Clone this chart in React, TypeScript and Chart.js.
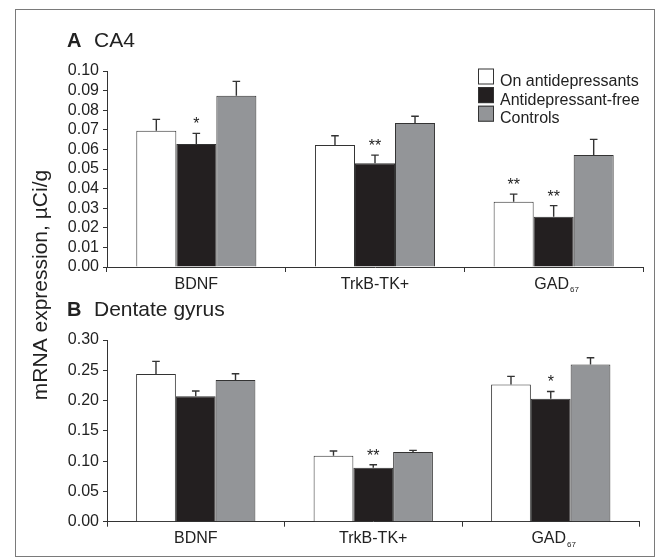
import React, { useEffect, useRef } from 'react';
import { Chart, registerables } from 'chart.js';

Chart.register(...registerables);

const FONT = '"Liberation Sans", Arial, Helvetica, sans-serif';

// ---------- data ----------
const categories = ['BDNF', 'TrkB-TK+', 'GAD_67'];
const seriesNames = ['On antidepressants', 'Antidepressant-free', 'Controls'];
const seriesColors = ['#ffffff', '#231f20', '#939598'];

// Panel A: CA4
const caOn = [0.0695, 0.0622, 0.0333];
const caFree = [0.0628, 0.0529, 0.0257];
const caCtrl = [0.0874, 0.0735, 0.0571];
const caOnErr = [0.0058, 0.0048, 0.0039];
const caFreeErr = [0.0054, 0.0042, 0.0056];
const caCtrlErr = [0.0073, 0.0034, 0.008];
const caOnSig = ['', '', '**'];
const caFreeSig = ['*', '**', '**'];
const caCtrlSig = ['', '', ''];
const caTicks = [0, 0.01, 0.02, 0.03, 0.04, 0.05, 0.06, 0.07, 0.08, 0.09, 0.1];
const caTickLabels = ['0.00', '0.01', '0.02', '0.03', '0.04', '0.05', '0.06', '0.07', '0.08', '0.09', '0.10'];

// Panel B: Dentate gyrus
const dgOn = [0.2437, 0.109, 0.2267];
const dgFree = [0.207, 0.0891, 0.203];
const dgCtrl = [0.2338, 0.115, 0.2597];
const dgOnErr = [0.021, 0.0077, 0.0133];
const dgFreeErr = [0.0087, 0.005, 0.012];
const dgCtrlErr = [0.0104, 0.0028, 0.011];
const dgOnSig = ['', '', ''];
const dgFreeSig = ['', '**', '*'];
const dgCtrlSig = ['', '', ''];
const dgTicks = [0, 0.05, 0.1, 0.15, 0.2, 0.25, 0.3];
const dgTickLabels = ['0.00', '0.05', '0.10', '0.15', '0.20', '0.25', '0.30'];

const yTitle = 'mRNA expression, \u00b5Ci/g';
const titleA = ['A', 'CA4'];
const titleB = ['B', 'Dentate gyrus'];

// ---------- plugins ----------
const errorBarPlugin = {
  id: 'errorBars',
  afterDatasetsDraw(chart: any) {
    const { ctx } = chart;
    const y = chart.scales.y;
    chart.data.datasets.forEach((ds: any, i: number) => {
      const meta = chart.getDatasetMeta(i);
      meta.data.forEach((bar: any, j: number) => {
        const v = ds.data[j];
        const top = y.getPixelForValue(v + ds.errors[j]);
        ctx.save();
        ctx.strokeStyle = '#333';
        ctx.lineWidth = 1.4;
        ctx.beginPath();
        ctx.moveTo(bar.x, bar.y);
        ctx.lineTo(bar.x, top);
        ctx.moveTo(bar.x - 3.8, top);
        ctx.lineTo(bar.x + 3.8, top);
        ctx.stroke();
        if (ds.sig[j]) {
          ctx.fillStyle = '#222';
          ctx.font = `16px ${FONT}`;
          ctx.textAlign = 'center';
          ctx.textBaseline = 'alphabetic';
          ctx.fillText(ds.sig[j], bar.x, top - 4);
        }
        ctx.restore();
      });
    });
  },
};

const xLabelPlugin = {
  id: 'xLabels',
  afterDraw(chart: any) {
    const { ctx, chartArea } = chart;
    const x = chart.scales.x;
    ctx.save();
    ctx.fillStyle = '#222';
    ctx.textBaseline = 'alphabetic';
    categories.forEach((label, j) => {
      const cx = x.getPixelForValue(j);
      const base = chartArea.bottom + 21.5;
      const [main, sub] = label.split('_');
      ctx.font = `16px ${FONT}`;
      const wMain = ctx.measureText(main).width;
      if (sub) {
        const start = cx - wMain / 2 - 2;
        ctx.textAlign = 'left';
        ctx.fillText(main, start, base);
        ctx.font = `8px ${FONT}`;
        ctx.fillText(sub, start + wMain + 1, base + 3.5);
      } else {
        ctx.textAlign = 'center';
        ctx.fillText(main, cx, base);
      }
    });
    ctx.restore();
  },
};

const panelTitlePlugin = {
  id: 'panelTitle',
  afterDraw(chart: any, _args: any, opts: any) {
    const { ctx, chartArea } = chart;
    const base = chartArea.top - 24;
    ctx.save();
    ctx.fillStyle = '#222';
    ctx.textAlign = 'left';
    ctx.textBaseline = 'alphabetic';
    ctx.font = `bold 20px ${FONT}`;
    ctx.fillText(opts.text[0], 67, base);
    ctx.font = `21px ${FONT}`;
    ctx.fillText(opts.text[1], 94, base);
    ctx.restore();
  },
};

const legendPlugin = {
  id: 'customLegend',
  afterDraw(chart: any, _args: any, opts: any) {
    if (!opts.show) return;
    const { ctx } = chart;
    ctx.save();
    chart.data.datasets.forEach((ds: any, i: number) => {
      const top = 68.5 + i * 18.6;
      ctx.fillStyle = ds.backgroundColor;
      ctx.fillRect(478, top, 16, 16);
      ctx.strokeStyle = '#333';
      ctx.lineWidth = 1;
      ctx.strokeRect(478.5, top + 0.5, 15, 15);
      ctx.fillStyle = '#222';
      ctx.font = `16px ${FONT}`;
      ctx.textAlign = 'left';
      ctx.textBaseline = 'alphabetic';
      ctx.fillText(ds.label, 500, top + 17.5);
    });
    ctx.restore();
  },
};

const framePlugin = {
  id: 'frame',
  afterDraw(chart: any, _args: any, opts: any) {
    if (!opts.show) return;
    const { ctx } = chart;
    ctx.save();
    ctx.strokeStyle = '#7a7a7a';
    ctx.lineWidth = 1;
    ctx.strokeRect(15.5, 9.5, 639, 547);
    ctx.translate(47, 285);
    ctx.rotate(-Math.PI / 2);
    ctx.fillStyle = '#222';
    ctx.font = `21px ${FONT}`;
    ctx.textAlign = 'center';
    ctx.textBaseline = 'alphabetic';
    ctx.fillText(yTitle, 0, 0);
    ctx.restore();
  },
};

function makeConfig(
  values: number[][],
  errs: number[][],
  sigs: string[][],
  ticks: number[],
  tickLabels: string[],
  padding: any,
  xHeight: number,
  title: string[],
  showLegend: boolean,
  showFrame: boolean
): any {
  return {
    type: 'bar',
    data: {
      labels: categories,
      datasets: seriesNames.map((name, i) => ({
        label: name,
        data: values[i],
        errors: errs[i],
        sig: sigs[i],
        backgroundColor: seriesColors[i],
        borderColor: '#333',
        borderWidth: 1,
        categoryPercentage: 0.672,
        barPercentage: 1.0,
      })),
    },
    options: {
      responsive: false,
      animation: false,
      layout: { padding },
      plugins: {
        legend: { display: false },
        tooltip: { enabled: false },
        title: { display: false },
        panelTitle: { text: title },
        customLegend: { show: showLegend },
        frame: { show: showFrame },
      },
      scales: {
        x: {
          offset: true,
          grid: {
            display: true,
            offset: true,
            drawOnChartArea: false,
            drawTicks: true,
            tickLength: 5,
            color: '#333',
            lineWidth: 1,
          },
          border: { display: true, color: '#333', width: 1 },
          ticks: { display: false },
          afterFit: (s: any) => {
            s.height = xHeight;
          },
        },
        y: {
          min: ticks[0],
          max: ticks[ticks.length - 1],
          afterBuildTicks: (s: any) => {
            s.ticks = ticks.map((v) => ({ value: v }));
          },
          ticks: {
            autoSkip: false,
            callback: (_v: any, i: number) => tickLabels[i],
            font: { family: FONT, size: 16 },
            color: '#222',
            padding: 4,
          },
          grid: {
            drawOnChartArea: false,
            drawTicks: true,
            tickLength: 4,
            color: '#333',
          },
          border: { display: true, color: '#333', width: 1 },
          afterFit: (s: any) => {
            s.width = 107;
          },
        },
      },
    },
    plugins: [errorBarPlugin, xLabelPlugin, panelTitlePlugin, legendPlugin, framePlugin],
  };
}

export default function App() {
  const refA = useRef<HTMLCanvasElement>(null);
  const refB = useRef<HTMLCanvasElement>(null);

  useEffect(() => {
    Chart.defaults.font.family = FONT;
    const a = new Chart(
      refA.current as HTMLCanvasElement,
      makeConfig(
        [caOn, caFree, caCtrl],
        [caOnErr, caFreeErr, caCtrlErr],
        [caOnSig, caFreeSig, caCtrlSig],
        caTicks,
        caTickLabels,
        { left: 0, right: 14, top: 71, bottom: 0 },
        559 - 267,
        titleA,
        true,
        true
      )
    );
    const b = new Chart(
      refB.current as HTMLCanvasElement,
      makeConfig(
        [dgOn, dgFree, dgCtrl],
        [dgOnErr, dgFreeErr, dgCtrlErr],
        [dgOnSig, dgFreeSig, dgCtrlSig],
        dgTicks,
        dgTickLabels,
        { left: 0, right: 17.5, top: 50, bottom: 0 },
        269 - 231.7,
        titleB,
        false,
        false
      )
    );
    return () => {
      a.destroy();
      b.destroy();
    };
  }, []);

  return (
    <div style={{ position: 'absolute', left: 0, top: 0, width: 657, height: 559, background: '#fff' }}>
      <canvas ref={refA} width={657} height={559} style={{ position: 'absolute', left: 0, top: 0 }} />
      <canvas ref={refB} width={657} height={269} style={{ position: 'absolute', left: 0, top: 290 }} />
    </div>
  );
}
